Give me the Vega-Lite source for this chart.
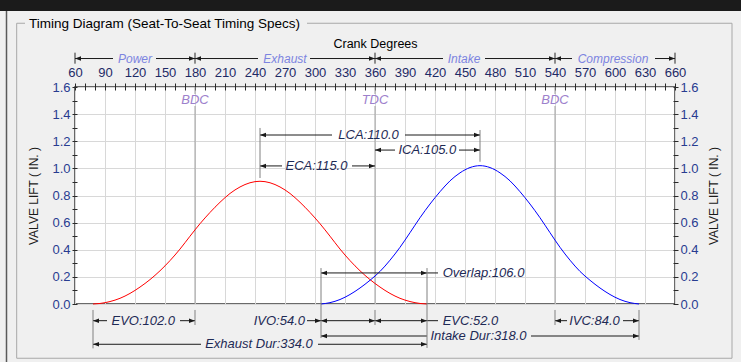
{
"$schema":"https://vega.github.io/schema/vega-lite/v6.json",
"width":600,"height":217,
"autosize":{"type":"none"},
"padding":{"left":75,"top":87,"right":66,"bottom":58},
"background":"#f0f0f0",
"config":{"view":{"fill":"#ffffff","stroke":"#3a3a3a","strokeWidth":1.5},"font":"Liberation Sans"},
"resolve":{"axis":{"x":"independent","y":"independent"}},
"datasets":{
"exhaust":[{"deg":78,"lift":0},{"deg":85,"lift":0.004},{"deg":95,"lift":0.018},{"deg":105,"lift":0.042},{"deg":115,"lift":0.078},{"deg":125,"lift":0.125},{"deg":135,"lift":0.18},{"deg":145,"lift":0.245},{"deg":155,"lift":0.32},{"deg":165,"lift":0.405},{"deg":175,"lift":0.5},{"deg":185,"lift":0.592},{"deg":195,"lift":0.675},{"deg":205,"lift":0.75},{"deg":215,"lift":0.815},{"deg":225,"lift":0.863},{"deg":235,"lift":0.894},{"deg":245,"lift":0.905},{"deg":255,"lift":0.894},{"deg":265,"lift":0.863},{"deg":275,"lift":0.815},{"deg":285,"lift":0.75},{"deg":295,"lift":0.675},{"deg":305,"lift":0.592},{"deg":315,"lift":0.5},{"deg":325,"lift":0.405},{"deg":335,"lift":0.32},{"deg":345,"lift":0.245},{"deg":355,"lift":0.18},{"deg":365,"lift":0.125},{"deg":375,"lift":0.078},{"deg":385,"lift":0.042},{"deg":395,"lift":0.018},{"deg":405,"lift":0.004},{"deg":412,"lift":0}],
"intake":[{"deg":306,"lift":0},{"deg":315,"lift":0.01},{"deg":325,"lift":0.033},{"deg":335,"lift":0.07},{"deg":345,"lift":0.118},{"deg":355,"lift":0.175},{"deg":365,"lift":0.24},{"deg":375,"lift":0.323},{"deg":385,"lift":0.418},{"deg":395,"lift":0.526},{"deg":405,"lift":0.636},{"deg":415,"lift":0.737},{"deg":425,"lift":0.828},{"deg":435,"lift":0.908},{"deg":445,"lift":0.967},{"deg":455,"lift":1.006},{"deg":465,"lift":1.02},{"deg":475,"lift":1.006},{"deg":485,"lift":0.967},{"deg":495,"lift":0.908},{"deg":505,"lift":0.828},{"deg":515,"lift":0.737},{"deg":525,"lift":0.636},{"deg":535,"lift":0.526},{"deg":545,"lift":0.418},{"deg":555,"lift":0.323},{"deg":565,"lift":0.24},{"deg":575,"lift":0.175},{"deg":585,"lift":0.118},{"deg":595,"lift":0.07},{"deg":605,"lift":0.033},{"deg":615,"lift":0.01},{"deg":624,"lift":0}],
"centers":[{"deg":180,"label":"BDC"},{"deg":360,"label":"TDC"},{"deg":540,"label":"BDC"}],
"strokes":[{"deg":120,"label":"Power"},{"deg":270,"label":"Exhaust"},{"deg":449,"label":"Intake"},{"deg":598,"label":"Compression"}],
"segments":[{"x1":60,"x2":98,"y":1.81},{"x1":141,"x2":180,"y":1.81},{"x1":180,"x2":243,"y":1.81},{"x1":295,"x2":360,"y":1.81},{"x1":360,"x2":428,"y":1.81},{"x1":470,"x2":540,"y":1.81},{"x1":540,"x2":557,"y":1.81},{"x1":640,"x2":660,"y":1.81},
{"x1":245,"x2":317,"y":1.246},{"x1":390,"x2":465,"y":1.246},
{"x1":360,"x2":380,"y":1.135},{"x1":444,"x2":465,"y":1.135},
{"x1":245,"x2":267,"y":1.018},{"x1":337,"x2":360,"y":1.018},
{"x1":306,"x2":423,"y":0.229},
{"x1":78,"x2":92,"y":-0.123},{"x1":165,"x2":180,"y":-0.123},{"x1":292,"x2":360,"y":-0.123},{"x1":360,"x2":423,"y":-0.123},{"x1":540,"x2":552,"y":-0.123},{"x1":608,"x2":624,"y":-0.123},
{"x1":306,"x2":412,"y":-0.236},{"x1":516,"x2":624,"y":-0.236},
{"x1":78,"x2":186,"y":-0.297},{"x1":303,"x2":412,"y":-0.297}],
"strokeBars":[{"x":60,"y1":1.853,"y2":1.772},{"x":180,"y1":1.853,"y2":1.772},{"x":360,"y1":1.853,"y2":1.772},{"x":540,"y1":1.853,"y2":1.772},{"x":660,"y1":1.853,"y2":1.772}],
"bars":[{"x":245,"y1":1.298,"y2":0.929},{"x":465,"y1":1.283,"y2":1.049},{"x":306,"y1":0.265,"y2":-0.251},{"x":412,"y1":0.265,"y2":-0.324},{"x":78,"y1":-0.044,"y2":-0.327},{"x":180,"y1":-0.044,"y2":-0.155},{"x":360,"y1":-0.044,"y2":-0.155},{"x":540,"y1":-0.044,"y2":-0.155},{"x":624,"y1":-0.044,"y2":-0.265}],
"arrows":[{"x":60,"y":1.81,"dir":"L"},{"x":180,"y":1.81,"dir":"R"},{"x":180,"y":1.81,"dir":"L"},{"x":360,"y":1.81,"dir":"R"},{"x":360,"y":1.81,"dir":"L"},{"x":540,"y":1.81,"dir":"R"},{"x":540,"y":1.81,"dir":"L"},{"x":660,"y":1.81,"dir":"R"},
{"x":245,"y":1.246,"dir":"L"},{"x":465,"y":1.246,"dir":"R"},
{"x":360,"y":1.135,"dir":"L"},{"x":465,"y":1.135,"dir":"R"},
{"x":245,"y":1.018,"dir":"L"},{"x":360,"y":1.018,"dir":"R"},
{"x":306,"y":0.229,"dir":"L"},{"x":412,"y":0.229,"dir":"R"},
{"x":78,"y":-0.123,"dir":"L"},{"x":180,"y":-0.123,"dir":"R"},{"x":306,"y":-0.123,"dir":"R"},{"x":306,"y":-0.123,"dir":"L"},{"x":360,"y":-0.123,"dir":"R"},{"x":360,"y":-0.123,"dir":"L"},{"x":412,"y":-0.123,"dir":"R"},{"x":540,"y":-0.123,"dir":"L"},{"x":624,"y":-0.123,"dir":"R"},
{"x":306,"y":-0.236,"dir":"L"},{"x":624,"y":-0.236,"dir":"R"},
{"x":78,"y":-0.297,"dir":"L"},{"x":412,"y":-0.297,"dir":"R"}],
"labelsCenter":[{"x":353.5,"y":1.246,"label":"LCA:110.0"},{"x":412.3,"y":1.135,"label":"ICA:105.0"},{"x":301.5,"y":1.018,"label":"ECA:115.0"},{"x":128.3,"y":-0.123,"label":"EVO:102.0"},{"x":579.5,"y":-0.123,"label":"IVC:84.0"},{"x":463.5,"y":-0.236,"label":"Intake Dur:318.0"},{"x":244,"y":-0.297,"label":"Exhaust Dur:334.0"}],
"labelsLeft":[{"x":427.7,"y":0.229,"label":"Overlap:106.0"},{"x":427.7,"y":-0.123,"label":"EVC:52.0"}],
"labelsRight":[{"x":290,"y":-0.123,"label":"IVO:54.0"}]
},
"layer":[
{"data":{"values":[{}]},"mark":{"type":"rect","color":"#1b1b1b"},"encoding":{"x":{"datum":-100,"type":"quantitative","axis":null},"x2":{"datum":800},"y":{"datum":2.16,"type":"quantitative","axis":null},"y2":{"datum":2.6}}},
{"data":{"values":[{}]},"mark":{"type":"rule","color":"#5a5a5a","strokeWidth":1.5},"encoding":{"x":{"datum":-8.5,"type":"quantitative","axis":null},"y":{"datum":2.16,"type":"quantitative","axis":null},"y2":{"datum":-0.6}}},
{"data":{"values":[{}]},"mark":{"type":"rect","fill":"transparent","stroke":"#a8a8a8","strokeWidth":1},"encoding":{"x":{"datum":1.7,"type":"quantitative","axis":null},"x2":{"datum":717},"y":{"datum":2.07,"type":"quantitative","axis":null},"y2":{"datum":-0.4}}},
{"data":{"values":[{}]},"mark":{"type":"rect","color":"#f0f0f0"},"encoding":{"x":{"datum":10,"type":"quantitative","axis":null},"x2":{"datum":292},"y":{"datum":2.11,"type":"quantitative","axis":null},"y2":{"datum":2.02}}},
{"data":{"values":[{}]},"mark":{"type":"text","text":"Timing Diagram (Seat-To-Seat Timing Specs)","align":"left","baseline":"middle","fontSize":13.5,"color":"#000000","font":"Liberation Sans"},"encoding":{"x":{"datum":14,"type":"quantitative","axis":null},"y":{"datum":2.065,"type":"quantitative","axis":null}}},
{"data":{"name":"centers"},"mark":{"type":"rule","color":"#a0a0a0","strokeWidth":1},"encoding":{"x":{"field":"deg","type":"quantitative","axis":null},"y":{"datum":0,"type":"quantitative","axis":null},"y2":{"datum":1.46}}},
{"data":{"name":"centers"},"mark":{"type":"rule","color":"#a0a0a0","strokeWidth":1},"encoding":{"x":{"field":"deg","type":"quantitative","axis":null},"y":{"datum":1.548,"type":"quantitative","axis":null},"y2":{"datum":1.6}}},
{"data":{"name":"centers"},"mark":{"type":"text","fontStyle":"italic","fontSize":13,"color":"#9d80cc","baseline":"middle","align":"center","font":"Liberation Sans"},"encoding":{"x":{"field":"deg","type":"quantitative","axis":null},"y":{"datum":1.505,"type":"quantitative","axis":null},"text":{"field":"label"}}},
{"data":{"name":"exhaust"},"mark":{"type":"line","color":"#ff0000","strokeWidth":1,"interpolate":"monotone"},"encoding":{
"x":{"field":"deg","type":"quantitative","scale":{"domain":[60,660],"nice":false,"zero":false},"axis":{"orient":"top","values":[60,70,80,90,100,110,120,130,140,150,160,170,180,190,200,210,220,230,240,250,260,270,280,290,300,310,320,330,340,350,360,370,380,390,400,410,420,430,440,450,460,470,480,490,500,510,520,530,540,550,560,570,580,590,600,610,620,630,640,650,660],"labelExpr":"datum.value % 30 === 0 ? datum.label : ''","offset":-3,"tickSize":7,"tickColor":"#2a2a2a","tickWidth":1,"domain":false,"labelPadding":4,"labelFont":"Liberation Sans","labelFontSize":13,"labelColor":"#1e2a66","labelOverlap":false,"labelFlush":false,"labelBound":false,"grid":true,"gridColor":{"condition":{"test":"datum.value % 30 === 0","value":"#d8d8d8"},"value":"rgba(0,0,0,0)"},"title":"Crank Degrees","titleFont":"Liberation Sans","titleFontSize":12.5,"titleFontWeight":"normal","titleColor":"#000000","titlePadding":16}},
"y":{"field":"lift","type":"quantitative","scale":{"domain":[0,1.6],"nice":false},"axis":{"orient":"left","values":[0,0.1,0.2,0.3,0.4,0.5,0.6,0.7,0.8,0.9,1,1.1,1.2,1.3,1.4,1.5,1.6],"labelExpr":"round(datum.value*10) % 2 === 0 ? format(datum.value, '.1f') : ''","offset":-2,"tickSize":5,"tickColor":"#2a2a2a","domain":false,"labelPadding":2,"labelFont":"Liberation Sans","labelFontSize":13,"labelColor":"#283c90","labelOverlap":false,"labelBound":false,"labelFlush":false,"grid":true,"gridColor":{"condition":{"test":"round(datum.value*10) % 2 === 0","value":"#d8d8d8"},"value":"rgba(0,0,0,0)"},"title":"VALVE LIFT ( IN. )","titleFont":"Liberation Sans","titleFontSize":12,"titleFontWeight":"normal","titleColor":"#1a1a1a","titlePadding":11}}}},
{"data":{"name":"intake"},"mark":{"type":"line","color":"#0000ff","strokeWidth":1,"interpolate":"monotone"},"encoding":{
"x":{"field":"deg","type":"quantitative","axis":null},
"y":{"field":"lift","type":"quantitative","axis":{"orient":"right","values":[0,0.1,0.2,0.3,0.4,0.5,0.6,0.7,0.8,0.9,1,1.1,1.2,1.3,1.4,1.5,1.6],"labelExpr":"round(datum.value*10) % 2 === 0 ? format(datum.value, '.1f') : ''","offset":-2,"tickSize":5,"tickColor":"#2a2a2a","domain":false,"labelPadding":2,"labelFont":"Liberation Sans","labelFontSize":13,"labelColor":"#283c90","labelOverlap":false,"labelBound":false,"labelFlush":false,"grid":false,"title":"VALVE LIFT ( IN. )","titleFont":"Liberation Sans","titleFontSize":12,"titleFontWeight":"normal","titleColor":"#1a1a1a","titleAngle":270,"titleBaseline":"top","titlePadding":10}}}},
{"data":{"name":"segments"},"mark":{"type":"rule","color":"#1a1a1a","strokeWidth":1},"encoding":{"x":{"field":"x1","type":"quantitative","axis":null},"x2":{"field":"x2"},"y":{"field":"y","type":"quantitative","axis":null}}},
{"data":{"name":"strokeBars"},"mark":{"type":"rule","color":"#2a2a2a","strokeWidth":1},"encoding":{"x":{"field":"x","type":"quantitative","axis":null},"y":{"field":"y1","type":"quantitative","axis":null},"y2":{"field":"y2"}}},
{"data":{"name":"bars"},"mark":{"type":"rule","color":"#808080","strokeWidth":1},"encoding":{"x":{"field":"x","type":"quantitative","axis":null},"y":{"field":"y1","type":"quantitative","axis":null},"y2":{"field":"y2"}}},
{"data":{"name":"arrows"},"mark":{"type":"point","filled":true,"size":36,"color":"#1a1a1a","opacity":1,"strokeWidth":0},"encoding":{"x":{"field":"x","type":"quantitative","axis":null},"y":{"field":"y","type":"quantitative","axis":null},"shape":{"field":"dir","type":"nominal","legend":null,"scale":{"domain":["L","R"],"range":["M0,0L2,-0.75L2,0.75Z","M0,0L-2,-0.75L-2,0.75Z"]}}}},
{"data":{"name":"strokes"},"mark":{"type":"text","fontStyle":"italic","fontSize":12,"color":"#7c84e0","baseline":"middle","align":"center","font":"Liberation Sans"},"encoding":{"x":{"field":"deg","type":"quantitative","axis":null},"y":{"datum":1.81,"type":"quantitative","axis":null},"text":{"field":"label"}}},
{"data":{"name":"labelsCenter"},"mark":{"type":"text","fontStyle":"italic","fontSize":13,"color":"#1e2a55","baseline":"middle","align":"center","font":"Liberation Sans"},"encoding":{"x":{"field":"x","type":"quantitative","axis":null},"y":{"field":"y","type":"quantitative","axis":null},"text":{"field":"label"}}},
{"data":{"name":"labelsLeft"},"mark":{"type":"text","fontStyle":"italic","fontSize":13,"color":"#1e2a55","baseline":"middle","align":"left","font":"Liberation Sans"},"encoding":{"x":{"field":"x","type":"quantitative","axis":null},"y":{"field":"y","type":"quantitative","axis":null},"text":{"field":"label"}}},
{"data":{"name":"labelsRight"},"mark":{"type":"text","fontStyle":"italic","fontSize":13,"color":"#1e2a55","baseline":"middle","align":"right","font":"Liberation Sans"},"encoding":{"x":{"field":"x","type":"quantitative","axis":null},"y":{"field":"y","type":"quantitative","axis":null},"text":{"field":"label"}}}
]
}
